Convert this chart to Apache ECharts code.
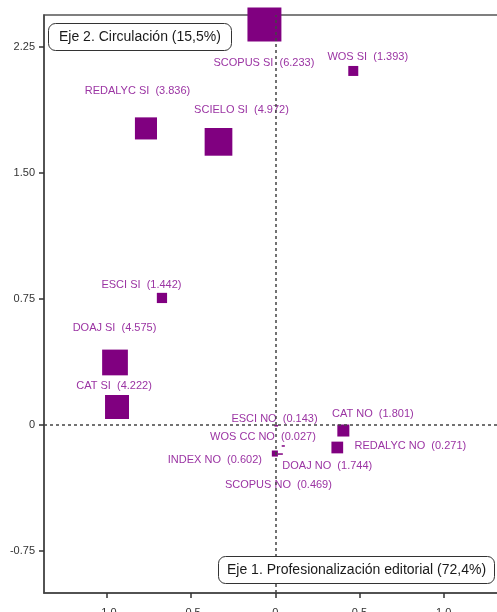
<!DOCTYPE html>
<html>
<head>
<meta charset="utf-8">
<script src="https://cdn.jsdelivr.net/npm/echarts@6/dist/echarts.min.js"></script>
<style>
  html, body { margin: 0; padding: 0; background: #fff; overflow: hidden; }
  #chart { width: 497px; height: 612px; }
</style>
</head>
<body>
<div id="chart"></div>
<script>
// ---- data ----
const categories = ['SCOPUS SI','WOS SI','REDALYC SI','SCIELO SI','ESCI SI','DOAJ SI','CAT SI',
                    'CAT NO','DOAJ NO','ESCI NO','WOS CC NO','REDALYC NO','INDEX NO','SCOPUS NO'];
const contributions = [6.233, 1.393, 3.836, 4.972, 1.442, 4.575, 4.222,
                       1.801, 1.744, 0.143, 0.027, 0.271, 0.602, 0.469];
const dim1 = [-0.065, 0.463, -0.769, -0.338, -0.674, -0.953, -0.941,
              0.404, 0.368, 0.005, 0.047, -0.006, -0.003, 0.030];
const dim2 = [2.384, 2.107, 1.765, 1.685, 0.756, 0.372, 0.107,
              -0.033, -0.134, -0.005, -0.125, -0.161, -0.170, -0.173];
const xTicks = [-1.0, -0.5, 0, 0.5, 1.0];
const xTickLabels = ['-1.0', '-0.5', '0', '0.5', '1.0'];
const yTicks = [-0.75, 0, 0.75, 1.5, 2.25];
const yTickLabels = ['-0.75', '0', '0.75', '1.50', '2.25'];
const axisTitle1 = 'Eje 1. Profesionalización editorial (72,4%)';
const axisTitle2 = 'Eje 2. Circulación (15,5%)';

// ---- layout: label offsets (px) relative to each marker ----
const labelOffsets = [[-0.5, 38.5], [14.5, -14], [-8.5, -37.5], [23, -32], [-20.5, -13], [-0.5, -34.5], [-3, -21],
                      [29.5, -16.5], [-10, 18.5], [-1.7, -6.8], [-20.3, -9], [136, -6], [-60, 6.4], [-2, 31]];

const symSize = v => v >= 0.5 ? 4.95 * v + 3.1 : [4 * v + 3, 1.5];

const points = categories.map((n, i) => ({
  name: n,
  value: [dim1[i], dim2[i], contributions[i]],
  symbolSize: symSize(contributions[i]),
  label: { offset: labelOffsets[i] }
}));

const font = '"Liberation Sans", Arial, sans-serif';
const chart = echarts.init(document.getElementById('chart'), null, { renderer: 'canvas' });

const option = {
  animation: false,
  backgroundColor: '#ffffff',
  title: [
    {
      text: axisTitle2, left: 48, top: 23,
      padding: [6, 11], backgroundColor: '#fff',
      borderColor: '#333', borderWidth: 1, borderRadius: 7,
      textStyle: { fontFamily: font, fontSize: 14, fontWeight: 'normal', color: '#1a1a1a', lineHeight: 16 }
    },
    {
      text: axisTitle1, left: 218, top: 556,
      padding: [6, 9], backgroundColor: '#fff',
      borderColor: '#333', borderWidth: 1, borderRadius: 7,
      textStyle: { fontFamily: font, fontSize: 14, fontWeight: 'normal', color: '#1a1a1a', lineHeight: 16 }
    }
  ],
  grid: {
    left: 44, top: 15, right: -3, bottom: 19,
    outerBoundsMode: 'none', containLabel: false,
    show: true, borderColor: '#555', borderWidth: 1.5, backgroundColor: 'transparent'
  },
  xAxis: {
    type: 'value', min: -1.375, max: 1.335,
    splitLine: { show: false },
    axisLine: { show: true, onZero: false, lineStyle: { color: '#444', width: 1.5 } },
    axisTick: { show: true, length: 5, customValues: xTicks, lineStyle: { color: '#333', width: 1.5 } },
    axisLabel: {
      customValues: xTicks, margin: 14, fontFamily: font, fontSize: 11, color: '#333',
      formatter: v => { const i = xTicks.indexOf(v); return i >= 0 ? xTickLabels[i] : ''; }
    }
  },
  yAxis: {
    type: 'value', min: -1.0, max: 2.44,
    splitLine: { show: false },
    axisLine: { show: true, onZero: false, lineStyle: { color: '#444', width: 1.5 } },
    axisTick: { show: true, length: 5, customValues: yTicks, lineStyle: { color: '#333', width: 1.5 } },
    axisLabel: {
      customValues: yTicks, margin: 9, fontFamily: font, fontSize: 11, color: '#333',
      formatter: v => { const i = yTicks.indexOf(v); return i >= 0 ? yTickLabels[i] : ''; }
    }
  },
  series: [
    {
      type: 'scatter', data: [], z: 1, silent: true,
      markLine: {
        silent: true, symbol: 'none', animation: false,
        label: { show: false },
        lineStyle: { color: '#444', type: [3, 3], width: 1.5 },
        data: [{ xAxis: 0 }, { yAxis: 0 }]
      }
    },
    {
      type: 'scatter', z: 3, clip: false,
      symbol: 'rect',
      itemStyle: { color: '#800080', opacity: 1 },
      label: {
        show: true, position: 'inside',
        fontFamily: font, fontSize: 11, color: '#9b34a3',
        formatter: p => p.name + '  (' + p.value[2].toFixed(3) + ')'
      },
      emphasis: { disabled: true },
      data: points
    }
  ]
};
chart.setOption(option);
</script>
</body>
</html>
